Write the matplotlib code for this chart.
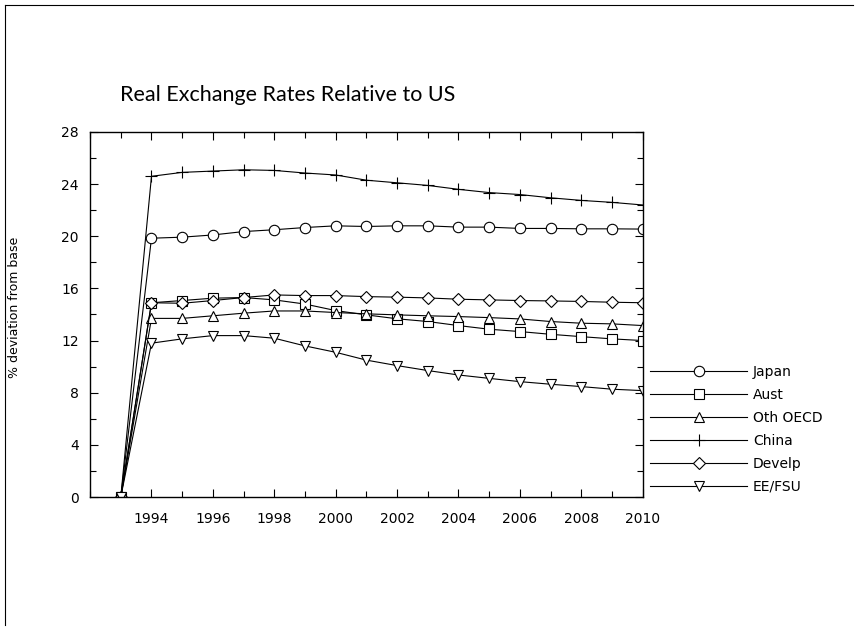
import matplotlib
matplotlib.use("Agg")
import matplotlib.pyplot as plt
from matplotlib.ticker import MultipleLocator
from matplotlib.lines import Line2D

years = list(range(1993, 2011))

japan = [0, 19.85, 19.93, 20.1, 20.36, 20.5, 20.67, 20.8, 20.75, 20.8, 20.8, 20.7, 20.7, 20.6, 20.6, 20.57, 20.57, 20.55]
aust = [0, 14.9, 15.07, 15.25, 15.3, 15.12, 14.8, 14.3, 13.97, 13.67, 13.46, 13.15, 12.87, 12.69, 12.48, 12.3, 12.13, 12.0]
oth_oecd = [0, 13.7, 13.7, 13.9, 14.1, 14.27, 14.27, 14.15, 14.05, 13.97, 13.9, 13.84, 13.76, 13.66, 13.46, 13.33, 13.28, 13.15]
china = [0, 24.6, 24.9, 25.0, 25.1, 25.05, 24.85, 24.7, 24.3, 24.1, 23.9, 23.6, 23.35, 23.2, 22.95, 22.75, 22.6, 22.4]
develp = [0, 14.9, 14.86, 15.07, 15.3, 15.5, 15.45, 15.45, 15.37, 15.33, 15.27, 15.17, 15.12, 15.07, 15.04, 15.0, 14.94, 14.9]
ee_fsu = [0, 11.8, 12.13, 12.38, 12.38, 12.18, 11.59, 11.1, 10.5, 10.08, 9.7, 9.36, 9.1, 8.85, 8.65, 8.47, 8.27, 8.16]

series = [("Japan", japan, "o"), ("Aust", aust, "s"), ("Oth OECD", oth_oecd, "^"),
          ("China", china, "+"), ("Develp", develp, "D"), ("EE/FSU", ee_fsu, "v")]

fig = plt.figure(figsize=(8.58, 6.32), dpi=100)
ax = fig.add_axes([0.105, 0.2136, 0.644, 0.5776])

for name, vals, m in series:
    ms = 7.5
    if m == "D":
        ms = 6.5
    if m == "s":
        ms = 6.5
    if m == "+":
        ms = 9
    ax.plot(years, vals, color="black", lw=0.8, marker=m, markersize=ms,
            markerfacecolor="white", markeredgecolor="black", markeredgewidth=0.8,
            label=name)

ax.set_xlim(1992, 2010)
ax.set_ylim(0, 28)
ax.xaxis.set_major_locator(MultipleLocator(2))
ax.xaxis.set_minor_locator(MultipleLocator(1))
ax.yaxis.set_major_locator(MultipleLocator(4))
ax.yaxis.set_minor_locator(MultipleLocator(2))
ax.set_xticks(range(1994, 2011, 2))
ax.tick_params(which="both", direction="in", top=True, right=True, labelsize=10, pad=8)
ax.tick_params(axis="x", pad=11)
ax.tick_params(which="major", length=6, width=0.8)
ax.tick_params(which="minor", length=4, width=0.8)
for s in ax.spines.values():
    s.set_linewidth(1.0)

ax.set_ylabel("% deviation from base", fontsize=9)
ax.yaxis.set_label_coords(-0.125, 0.52)

fig.text(120 / 858, 1 - 95 / 632, "Real Exchange Rates Relative to US",
         fontsize=15.5, family=["Lato", "DejaVu Sans"], color="black",
         va="center", ha="left")

ax.legend(loc="upper left", bbox_to_anchor=(650 / 858, 1 - 365 / 632),
          bbox_transform=fig.transFigure, frameon=False, fontsize=10,
          handlelength=7.0, labelspacing=0.64, handletextpad=0.4,
          borderaxespad=0, borderpad=0)

# thin border on top and left of page
fig.add_artist(Line2D([5 / 858, 5 / 858], [1 - 5 / 632, 1 - 625 / 632],
                      transform=fig.transFigure, color="black", lw=0.8))
fig.add_artist(Line2D([5 / 858, 853 / 858], [1 - 5 / 632, 1 - 5 / 632],
                      transform=fig.transFigure, color="black", lw=0.8))

fig.savefig("out.png", dpi=100)
